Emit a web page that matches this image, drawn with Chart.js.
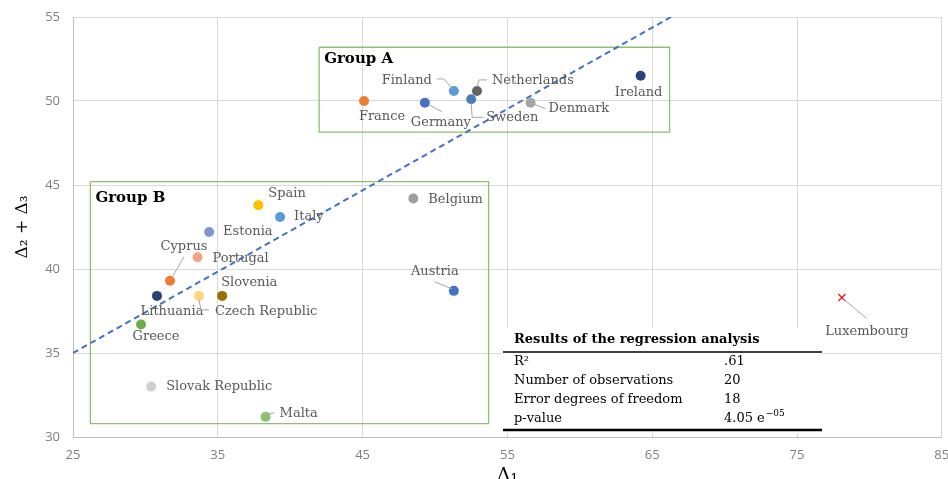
<!DOCTYPE html>
<html>
<head>
<meta charset="utf-8">
<script src="https://cdn.jsdelivr.net/npm/chart.js@4.4.1/dist/chart.umd.min.js"></script>
<style>
  body { margin: 0; background: #ffffff; }
  #grafico { display: block; }
</style>
</head>
<body>
<canvas id="grafico" width="948" height="479"></canvas>
<script>
// DATOS //
const countries = ["France", "Germany", "Finland", "Sweden", "Netherlands", "Denmark", "Ireland",
  "Spain", "Italy", "Estonia", "Belgium", "Portugal", "Cyprus", "Lithuania", "Czech Republic",
  "Slovenia", "Greece", "Austria", "Slovak Republic", "Malta"];
const deltaOne = [45.1, 49.3, 51.3, 52.5, 52.9, 56.6, 64.2,
  37.8, 39.3, 34.4, 48.5, 33.6, 31.7, 30.8, 33.7,
  35.3, 29.7, 51.3, 30.4, 38.3];
const deltaTwoThree = [50.0, 49.9, 50.6, 50.1, 50.6, 49.9, 51.5,
  43.8, 43.1, 42.2, 44.2, 40.7, 39.3, 38.4, 38.4,
  38.4, 36.7, 38.7, 33.0, 31.2];

const outlierNames = ["Luxembourg"];
const outlierX = [78.1];
const outlierY = [38.3];

// linea de regresion (extremos)
const trendX = [25, 66.3];
const trendY = [35.0, 55.0];

// recuadros de grupos
const groupNames = ["Group A", "Group B"];
const groupXMin = [42.0, 26.2];
const groupXMax = [66.2, 53.7];
const groupYMin = [48.15, 30.8];
const groupYMax = [53.2, 45.2];

const xTicks = [25, 35, 45, 55, 65, 75, 85];
const yTicks = [30, 35, 40, 45, 50, 55];

const tableTitle = "Results of the regression analysis";
const tableRows = ["R²", "Number of observations", "Error degrees of freedom", "p-value"];
const tableValues = [".61", "20", "18", "4.05 e"];
const pValueExponent = "−05";

// ESTILOS //
const pointColors = ["#ED7D31", "#4472C4", "#5B9BD5", "#4A7EBB", "#636363", "#A5A5A5", "#264478",
  "#FFC000", "#5B9BD5", "#7F96D6", "#9E9E9E", "#F2A47E", "#ED7D31", "#264478", "#FFD47F",
  "#9A6F00", "#70AD47", "#4472C4", "#D0D0D0", "#8FBF72"];

// posicion de etiquetas relativa al punto (px) y lineas guia
const labelLayout = {
  "France": { dx: 18, dy: 16, align: "center" },
  "Germany": { dx: 16, dy: 20, align: "center", leader: [[4, 2], [17, 9]] },
  "Finland": { dx: -22, dy: -10, align: "right", leader: [[-17, -12], [-10, -12], [-1, -2]] },
  "Sweden": { dx: 15, dy: 18, align: "left", leader: [[0, 4], [1, 18], [12, 18]] },
  "Netherlands": { dx: 15, dy: -10, align: "left", leader: [[0, -4], [2, -11], [10, -11]] },
  "Denmark": { dx: 18, dy: 6, align: "left", leader: [[2, 1], [15, 6]] },
  "Ireland": { dx: -2, dy: 17, align: "center" },
  "Spain": { dx: 10, dy: -12, align: "left" },
  "Italy": { dx: 14, dy: 0, align: "left" },
  "Estonia": { dx: 14, dy: 0, align: "left" },
  "Belgium": { dx: 15, dy: 1, align: "left" },
  "Portugal": { dx: 15, dy: 1, align: "left" },
  "Cyprus": { dx: 14, dy: -34, align: "center", leader: [[14, -24], [3, -5]] },
  "Lithuania": { dx: 15, dy: 16, align: "center" },
  "Czech Republic": { dx: 16, dy: 16, align: "left", leader: [[0, 4], [2, 14], [10, 14]] },
  "Slovenia": { dx: -1, dy: -13, align: "left" },
  "Greece": { dx: 15, dy: 12, align: "center" },
  "Austria": { dx: -19, dy: -19, align: "center", leader: [[-19, -9], [-2, -2]] },
  "Slovak Republic": { dx: 15, dy: 0, align: "left" },
  "Malta": { dx: 14, dy: -3, align: "left", leader: [[2, -3], [9, -4]] },
  "Luxembourg": { dx: 25, dy: 34, align: "center", leader: [[1, 1], [25, 21]] }
};

const serif = "'DejaVu Serif', 'Liberation Serif', serif";
const tickFont = "'Open Sans', 'Liberation Sans', sans-serif";
const boxColor = "#8FC16D";

// DATASETS //
const puntos = deltaOne.map((x, i) => ({ x: x, y: deltaTwoThree[i] }));
const outlier = outlierX.map((x, i) => ({ x: x, y: outlierY[i] }));
const trend = trendX.map((x, i) => ({ x: x, y: trendY[i] }));

function boxPath(i) {
  return [
    { x: groupXMin[i], y: groupYMax[i] },
    { x: groupXMax[i], y: groupYMax[i] },
    { x: groupXMax[i], y: groupYMin[i] },
    { x: groupXMin[i], y: groupYMin[i] },
    { x: groupXMin[i], y: groupYMax[i] }
  ];
}

const datasets = [
  {
    label: "Countries",
    data: puntos,
    pointRadius: 5,
    pointHoverRadius: 5,
    pointBackgroundColor: pointColors,
    pointBorderColor: pointColors,
    pointBorderWidth: 0,
    order: 0
  },
  {
    label: "Luxembourg",
    data: outlier,
    pointStyle: "crossRot",
    pointRadius: 5,
    pointBorderColor: "#FF0000",
    pointBorderWidth: 1.2,
    order: 1
  },
  {
    label: "Trend",
    data: trend,
    showLine: true,
    pointRadius: 0,
    borderColor: "#4472C4",
    borderWidth: 2,
    borderDash: [6, 4],
    order: 2
  }
];
groupNames.forEach((g, i) => {
  datasets.push({
    label: g,
    data: boxPath(i),
    showLine: true,
    pointRadius: 0,
    borderColor: boxColor,
    borderWidth: 1.3,
    tension: 0,
    order: 3
  });
});

// PLUGIN ETIQUETAS //
const etiquetas = {
  id: "etiquetas",
  afterDatasetsDraw(chart) {
    const ctx = chart.ctx;
    const xs = chart.scales.x;
    const ys = chart.scales.y;
    const todos = [];
    countries.forEach((c, i) => todos.push({ name: c, x: deltaOne[i], y: deltaTwoThree[i] }));
    outlierNames.forEach((c, i) => todos.push({ name: c, x: outlierX[i], y: outlierY[i] }));

    ctx.save();
    todos.forEach((p) => {
      const lay = labelLayout[p.name];
      const px = xs.getPixelForValue(p.x);
      const py = ys.getPixelForValue(p.y);
      if (lay.leader) {
        ctx.beginPath();
        ctx.strokeStyle = "#A6A6A6";
        ctx.lineWidth = 1;
        lay.leader.forEach((pt, k) => {
          if (k === 0) ctx.moveTo(px + pt[0], py + pt[1]);
          else ctx.lineTo(px + pt[0], py + pt[1]);
        });
        ctx.stroke();
      }
      ctx.font = "13px " + serif;
      ctx.fillStyle = "#595959";
      ctx.textAlign = lay.align;
      ctx.textBaseline = "middle";
      ctx.fillText(p.name, px + lay.dx, py + lay.dy);
    });

    // titulos de grupos
    ctx.font = "bold 15px " + serif;
    ctx.fillStyle = "#000000";
    ctx.textAlign = "left";
    ctx.textBaseline = "middle";
    const gOff = [[5, 12], [5, 16]];
    groupNames.forEach((g, i) => {
      const gx = xs.getPixelForValue(groupXMin[i]);
      const gy = ys.getPixelForValue(groupYMax[i]);
      ctx.fillText(g, gx + gOff[i][0], gy + gOff[i][1]);
    });
    ctx.restore();
  },
  afterDraw(chart) {
    // tabla de resultados
    const ctx = chart.ctx;
    const ca = chart.chartArea;
    const x0 = ca.left + 430;
    const x1 = ca.left + 749;
    const textX = x0 + 11;
    const valX = x0 + 221;
    const ruleTop = ca.top + 335;
    const ruleBottom = ca.top + 413;

    ctx.save();
    ctx.fillStyle = "#ffffff";
    ctx.fillRect(x0, ruleTop - 24, x1 - x0, ruleBottom - ruleTop + 27);

    ctx.fillStyle = "#000000";
    ctx.textBaseline = "middle";
    ctx.textAlign = "left";
    ctx.font = "bold 13px " + serif;
    ctx.fillText(tableTitle, textX, ruleTop - 12);

    ctx.strokeStyle = "#000000";
    ctx.lineWidth = 1.5;
    ctx.beginPath();
    ctx.moveTo(x0, ruleTop);
    ctx.lineTo(x1, ruleTop);
    ctx.stroke();

    ctx.font = "13px " + serif;
    tableRows.forEach((r, i) => {
      const ry = ruleTop + 10 + i * 19;
      ctx.fillText(r, textX, ry);
      ctx.fillText(tableValues[i], valX, ry);
      if (i === tableRows.length - 1) {
        const w = ctx.measureText(tableValues[i]).width;
        ctx.font = "9px " + serif;
        ctx.fillText(pValueExponent, valX + w + 1, ry - 5);
        ctx.font = "13px " + serif;
      }
    });

    ctx.lineWidth = 2.5;
    ctx.beginPath();
    ctx.moveTo(x0, ruleBottom);
    ctx.lineTo(x1, ruleBottom);
    ctx.stroke();
    ctx.restore();
  }
};

// GRAFICO //
const graficoX = document.getElementById("grafico");

const chart = new Chart(graficoX, {
  type: "scatter",
  data: { datasets: datasets },
  options: {
    responsive: false,
    animation: false,
    layout: { padding: { top: 17, right: 5, left: 0, bottom: 0 } },
    plugins: {
      legend: { display: false },
      tooltip: { enabled: false }
    },
    scales: {
      x: {
        type: "linear",
        min: xTicks[0],
        max: xTicks[xTicks.length - 1],
        afterBuildTicks: (s) => { s.ticks = xTicks.map((v) => ({ value: v })); },
        afterFit: (s) => { s.height = 42; s.paddingLeft = 0; s.paddingRight = 0; },
        grid: { color: "#D9D9D9", drawTicks: false },
        border: { color: "#BFBFBF" },
        ticks: {
          padding: 10,
          color: "#7F7F7F",
          font: { family: tickFont, size: 13 },
          maxRotation: 0
        },
        title: {
          display: true,
          text: "Δ₁",
          color: "#000000",
          font: { family: serif, size: 19, lineHeight: 0.6 },
          padding: { top: 0, bottom: -3 }
        }
      },
      y: {
        type: "linear",
        min: yTicks[0],
        max: yTicks[yTicks.length - 1],
        afterBuildTicks: (s) => { s.ticks = yTicks.map((v) => ({ value: v })); },
        afterFit: (s) => { s.width = 73; s.paddingTop = 0; s.paddingBottom = 0; },
        grid: { color: "#D9D9D9", drawTicks: false },
        border: { color: "#BFBFBF" },
        ticks: {
          padding: 13,
          color: "#7F7F7F",
          font: { family: tickFont, size: 13 }
        },
        title: {
          display: true,
          text: "Δ₂ + Δ₃",
          color: "#000000",
          font: { family: serif, size: 17 },
          padding: { top: 12, bottom: 0 }
        }
      }
    }
  },
  plugins: [etiquetas]
});
</script>
</body>
</html>
